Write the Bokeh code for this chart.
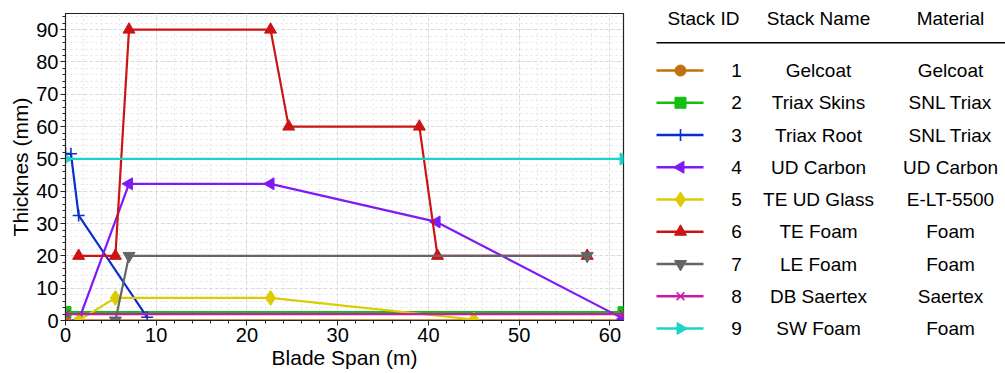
import math
from bokeh.plotting import figure
from bokeh.models import Range1d, ColumnDataSource, SingleIntervalTicker
from bokeh.core.properties import value
from bokeh.embed import file_html
from bokeh.resources import INLINE

FONT = "Liberation Sans"

# ---- data ----
stack_ids = ["1", "2", "3", "4", "5", "6", "7", "8", "9"]
stack_names = ["Gelcoat", "Triax Skins", "Triax Root", "UD Carbon", "TE UD Glass",
               "TE Foam", "LE Foam", "DB Saertex", "SW Foam"]
materials = ["Gelcoat", "SNL Triax", "SNL Triax", "UD Carbon", "E-LT-5500",
             "Foam", "Foam", "Saertex", "Foam"]
headers = ["Stack ID", "Stack Name", "Material"]

gelcoat_x = [0, 61.5]
gelcoat_y = [0.05, 0.05]
triax_skins_x = [0, 61.5]
triax_skins_y = [2.6, 2.6]
triax_root_x = [0, 0.6, 1.45, 9.0]
triax_root_y = [51.6, 51.6, 32.5, 1.0]
ud_carbon_x = [1.45, 7.0, 22.6, 40.9, 61.5]
ud_carbon_y = [0.0, 42.3, 42.3, 30.5, 0.5]
te_ud_glass_x = [1.45, 5.5, 22.6, 45.0]
te_ud_glass_y = [0.0, 7.0, 7.0, 0.3]
te_foam_x = [1.45, 5.5, 7.0, 22.6, 24.6, 39.0, 41.0, 57.5]
te_foam_y = [20, 20, 90, 90, 60, 60, 20, 20]
le_foam_x = [5.5, 7.0, 57.5]
le_foam_y = [0.0, 20, 20]
db_saertex_x = [0, 61.5]
db_saertex_y = [2.0, 2.0]
sw_foam_x = [0, 61.5]
sw_foam_y = [50, 50]

xs = [gelcoat_x, triax_skins_x, triax_root_x, ud_carbon_x, te_ud_glass_x,
      te_foam_x, le_foam_x, db_saertex_x, sw_foam_x]
ys = [gelcoat_y, triax_skins_y, triax_root_y, ud_carbon_y, te_ud_glass_y,
      te_foam_y, le_foam_y, db_saertex_y, sw_foam_y]

colors = ["#c0700c", "#11c011", "#0a2fd0", "#7f1af5", "#dccb00",
          "#cc1414", "#656565", "#c81aa8", "#1ad4c8"]
markers = ["circle", "square", "cross", "triangle", "diamond",
           "triangle", "inverted_triangle", "x", "triangle"]
angles = [0, 0, 0, math.pi / 2, 0, 0, 0, 0, -math.pi / 2]
sizes = [11, 11, 12, 12, 15, 12, 12, 11, 12]
lwidths = [1.6 if m in ("cross", "x") else 1 for m in markers]

# ---- main plot ----
p = figure(width=640, height=373, x_range=Range1d(0, 61.5), y_range=Range1d(0, 95),
           output_backend="svg", toolbar_location=None,
           min_border_left=65, min_border_right=17, min_border_top=13, min_border_bottom=53)
p.background_fill_color = "white"
p.border_fill_color = "white"
p.outline_line_color = "#222222"
p.outline_line_width = 1.2

for ax in (p.xaxis[0], p.yaxis[0]):
    ax.ticker = SingleIntervalTicker(interval=10, num_minor_ticks=5)
    ax.major_label_text_font = FONT
    ax.major_label_text_font_size = "20px"
    ax.major_label_text_color = "black"
    ax.axis_label_text_font = FONT
    ax.axis_label_text_font_size = "21px"
    ax.axis_label_text_font_style = "normal"
    ax.axis_label_text_color = "black"
    ax.major_tick_in = 0
    ax.major_tick_out = 5
    ax.minor_tick_in = 0
    ax.minor_tick_out = 3
    ax.axis_line_color = "#222222"
    ax.major_tick_line_color = "#222222"
    ax.minor_tick_line_color = "#222222"
    ax.major_label_standoff = 2
    ax.axis_label_standoff = 1

p.xaxis.axis_label = "Blade Span (m)"
p.yaxis.axis_label = "Thicknes (mm)"
p.xgrid[0].ticker = p.xaxis[0].ticker
p.ygrid[0].ticker = p.yaxis[0].ticker

for g in (p.xgrid[0], p.ygrid[0]):
    g.grid_line_color = "#d8d8d8"
    g.grid_line_dash = "3 3"
    g.grid_line_width = 1
    g.minor_grid_line_color = "#e4e4e4"
    g.minor_grid_line_dash = "2 3"
    g.minor_grid_line_width = 1

for i in range(9):
    p.line(xs[i], ys[i], line_color=colors[i], line_width=2.2)
    p.scatter(xs[i], ys[i], marker=markers[i], size=sizes[i], angle=angles[i],
              fill_color=colors[i], line_color=colors[i], line_width=lwidths[i])

# ---- legend table (pixel coordinates of its own panel) ----
leg = figure(width=365, height=373, x_range=Range1d(0, 365), y_range=Range1d(373, 0),
             output_backend="svg", toolbar_location=None,
             x_axis_location=None, y_axis_location=None,
             min_border=0, min_border_left=0, min_border_right=0,
             min_border_top=0, min_border_bottom=0)
leg.grid.visible = False
leg.outline_line_color = None
leg.border_fill_color = "white"

col_x = [63, 178, 310]
leg.text(x=col_x, y=[18] * 3, text=headers, text_align="center",
         text_baseline="middle", text_font=value(FONT), text_font_size="19px",
         text_color="black")
leg.segment(x0=[16], y0=[42.3], x1=[365], y1=[42.3], line_color="black", line_width=1.4)

row_y = [70 + 32.25 * i for i in range(9)]
leg.segment(x0=[16] * 9, x1=[63] * 9, y0=row_y, y1=row_y, line_color=colors, line_width=2.5)
src = ColumnDataSource(dict(x=[40] * 9, y=row_y, m=markers, a=angles, s=sizes, c=colors,
                            lw=lwidths))
leg.scatter(x="x", y="y", marker="m", angle="a", size="s", fill_color="c", line_color="c",
            line_width="lw", source=src)
for cx, col in zip([96, col_x[1], col_x[2]], [stack_ids, stack_names, materials]):
    leg.text(x=[cx] * 9, y=row_y, text=col, text_align="center", text_baseline="middle",
             text_font=value(FONT), text_font_size="19px", text_color="black")

template = """{% block preamble %}<style>
body { display: flex !important; flex-direction: row; align-items: flex-start; margin: 0; }
</style>{% endblock %}"""

open("out.html", "w").write(file_html([p, leg], INLINE, template=template))
